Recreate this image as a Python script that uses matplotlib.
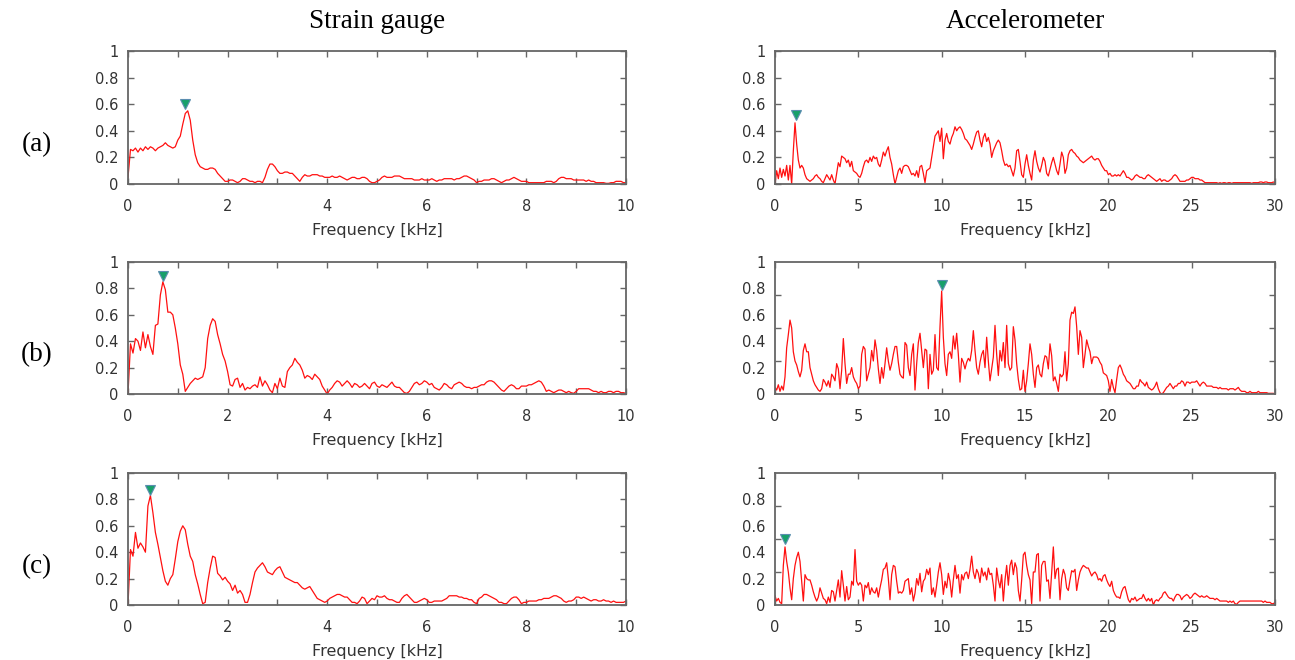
import numpy as np
import matplotlib
matplotlib.use("Agg")
import matplotlib.pyplot as plt
from matplotlib.ticker import FixedLocator, NullFormatter

# ---------------- data ----------------
column_titles = ["Strain gauge", "Accelerometer"]
row_labels = ["(a)", "(b)", "(c)"]
x_label = "Frequency [kHz]"
y_ticks = [0, 0.2, 0.4, 0.6, 0.8, 1.0]
y_ticklabels = ["0", "0.2", "0.4", "0.6", "0.8", "1"]
strain_xmax = 10
accel_xmax = 30

# strain gauge spectra, 0..10 kHz, 0.05 kHz step
strain_a = [
    0.05, 0.26, 0.25, 0.27, 0.24, 0.27, 0.25, 0.28, 0.26, 0.28, 0.27, 0.25, 0.27, 0.28, 0.29, 0.31, 0.29, 0.28, 0.27, 0.28,
    0.33, 0.36, 0.45, 0.53, 0.55, 0.48, 0.33, 0.22, 0.16, 0.13, 0.12, 0.11, 0.11, 0.12, 0.12, 0.11, 0.08, 0.06, 0.04, 0.02,
    0.02, 0.03, 0.03, 0.02, 0.01, 0.02, 0.04, 0.04, 0.03, 0.02, 0.02, 0.01, 0.02, 0.02, 0.01, 0.05, 0.11, 0.15, 0.15, 0.13,
    0.10, 0.08, 0.08, 0.09, 0.09, 0.08, 0.08, 0.06, 0.04, 0.02, 0.05, 0.07, 0.06, 0.06, 0.07, 0.07, 0.07, 0.06, 0.06, 0.05,
    0.05, 0.05, 0.06, 0.05, 0.05, 0.06, 0.05, 0.04, 0.03, 0.04, 0.05, 0.05, 0.04, 0.04, 0.05, 0.05, 0.04, 0.02, 0.01, 0.01,
    0.02, 0.03, 0.05, 0.06, 0.05, 0.05, 0.05, 0.06, 0.06, 0.06, 0.05, 0.04, 0.04, 0.04, 0.04, 0.03, 0.03, 0.03, 0.04, 0.03,
    0.03, 0.03, 0.04, 0.03, 0.02, 0.03, 0.03, 0.04, 0.04, 0.04, 0.04, 0.03, 0.04, 0.04, 0.05, 0.06, 0.06, 0.05, 0.04, 0.03,
    0.01, 0.02, 0.02, 0.03, 0.03, 0.03, 0.04, 0.04, 0.03, 0.02, 0.01, 0.02, 0.03, 0.03, 0.04, 0.05, 0.04, 0.03, 0.02, 0.02,
    0.02, 0.01, 0.01, 0.01, 0.01, 0.01, 0.01, 0.01, 0.02, 0.02, 0.02, 0.01, 0.02, 0.04, 0.05, 0.05, 0.04, 0.04, 0.04, 0.03,
    0.03, 0.03, 0.03, 0.03, 0.02, 0.03, 0.02, 0.02, 0.01, 0.01, 0.01, 0.01, 0.005, 0.005, 0.01, 0.01, 0.02, 0.02, 0.02, 0.01,
    0.01,
]
strain_b = [
    0.00, 0.38, 0.31, 0.42, 0.40, 0.33, 0.47, 0.35, 0.45, 0.36, 0.30, 0.52, 0.53, 0.75, 0.85, 0.79, 0.62, 0.62, 0.60, 0.50,
    0.38, 0.22, 0.15, 0.02, 0.05, 0.08, 0.10, 0.12, 0.11, 0.12, 0.13, 0.20, 0.42, 0.52, 0.57, 0.55, 0.45, 0.38, 0.30, 0.25,
    0.17, 0.07, 0.06, 0.11, 0.12, 0.05, 0.08, 0.03, 0.05, 0.04, 0.06, 0.07, 0.05, 0.13, 0.06, 0.10, 0.07, 0.03, 0.01, 0.08,
    0.04, 0.12, 0.06, 0.05, 0.17, 0.20, 0.22, 0.27, 0.24, 0.22, 0.18, 0.12, 0.14, 0.13, 0.11, 0.15, 0.13, 0.11, 0.06, 0.03,
    0.00, 0.03, 0.05, 0.08, 0.10, 0.09, 0.06, 0.08, 0.10, 0.08, 0.05, 0.08, 0.07, 0.05, 0.06, 0.08, 0.06, 0.04, 0.08, 0.09,
    0.06, 0.05, 0.07, 0.06, 0.05, 0.07, 0.09, 0.06, 0.05, 0.05, 0.03, 0.01, 0.005, 0.02, 0.05, 0.08, 0.09, 0.07, 0.08, 0.10,
    0.09, 0.07, 0.08, 0.05, 0.04, 0.03, 0.05, 0.08, 0.07, 0.05, 0.04, 0.07, 0.08, 0.09, 0.08, 0.06, 0.05, 0.05, 0.04, 0.05,
    0.05, 0.06, 0.07, 0.07, 0.09, 0.10, 0.10, 0.09, 0.07, 0.05, 0.03, 0.02, 0.04, 0.06, 0.07, 0.06, 0.04, 0.04, 0.06, 0.06,
    0.06, 0.07, 0.07, 0.08, 0.09, 0.10, 0.09, 0.06, 0.02, 0.03, 0.02, 0.01, 0.02, 0.03, 0.03, 0.02, 0.01, 0.02, 0.01, 0.005,
    0.02, 0.04, 0.04, 0.04, 0.04, 0.04, 0.03, 0.02, 0.02, 0.01, 0.02, 0.01, 0.01, 0.02, 0.02, 0.01, 0.02, 0.02, 0.01, 0.01,
    0.005,
]
strain_c = [
    0.00, 0.42, 0.37, 0.55, 0.43, 0.47, 0.44, 0.40, 0.75, 0.83, 0.70, 0.55, 0.46, 0.36, 0.26, 0.18, 0.15, 0.20, 0.23, 0.35,
    0.48, 0.56, 0.60, 0.57, 0.46, 0.37, 0.33, 0.23, 0.16, 0.08, 0.01, 0.02, 0.17, 0.28, 0.37, 0.36, 0.24, 0.22, 0.19, 0.21,
    0.18, 0.16, 0.11, 0.15, 0.09, 0.11, 0.08, 0.02, 0.02, 0.08, 0.17, 0.25, 0.28, 0.30, 0.32, 0.29, 0.25, 0.24, 0.23, 0.26,
    0.28, 0.29, 0.25, 0.21, 0.20, 0.19, 0.18, 0.17, 0.17, 0.15, 0.13, 0.12, 0.13, 0.14, 0.11, 0.08, 0.05, 0.04, 0.03, 0.02,
    0.03, 0.05, 0.06, 0.07, 0.08, 0.08, 0.07, 0.06, 0.06, 0.04, 0.02, 0.02, 0.01, 0.03, 0.06, 0.05, 0.01, 0.03, 0.05, 0.04,
    0.07, 0.06, 0.06, 0.07, 0.05, 0.04, 0.04, 0.03, 0.02, 0.02, 0.05, 0.07, 0.08, 0.06, 0.04, 0.02, 0.02, 0.03, 0.04, 0.05,
    0.04, 0.02, 0.02, 0.03, 0.03, 0.03, 0.03, 0.04, 0.05, 0.07, 0.07, 0.07, 0.07, 0.06, 0.06, 0.05, 0.05, 0.04, 0.04, 0.02,
    0.01, 0.05, 0.06, 0.08, 0.08, 0.07, 0.06, 0.05, 0.04, 0.02, 0.02, 0.01, 0.01, 0.03, 0.05, 0.06, 0.06, 0.04, 0.01, 0.02,
    0.02, 0.03, 0.03, 0.03, 0.03, 0.04, 0.04, 0.05, 0.05, 0.05, 0.06, 0.07, 0.07, 0.06, 0.05, 0.03, 0.02, 0.03, 0.03, 0.04,
    0.06, 0.06, 0.05, 0.06, 0.05, 0.04, 0.03, 0.04, 0.04, 0.03, 0.03, 0.04, 0.03, 0.03, 0.02, 0.03, 0.02, 0.02, 0.02, 0.02,
    0.03,
]

# accelerometer spectra, 0..30 kHz, 0.1 kHz step
accel_a = [
    0.00, 0.10, 0.04, 0.12, 0.05, 0.11, 0.06, 0.14, 0.03, 0.14,
    0.00, 0.25, 0.46, 0.30, 0.18, 0.12, 0.14, 0.12, 0.07, 0.04,
    0.03, 0.02, 0.03, 0.04, 0.06, 0.07, 0.05, 0.04, 0.02, 0.01,
    0.04, 0.07, 0.05, 0.03, 0.07, 0.03, 0.00, 0.08, 0.16, 0.13,
    0.21, 0.20, 0.19, 0.16, 0.18, 0.13, 0.17, 0.10, 0.09, 0.08,
    0.06, 0.05, 0.08, 0.13, 0.17, 0.18, 0.16, 0.20, 0.17, 0.21,
    0.19, 0.20, 0.15, 0.13, 0.18, 0.24, 0.21, 0.25, 0.28, 0.20,
    0.15, 0.07, 0.00, 0.05, 0.10, 0.12, 0.08, 0.13, 0.14, 0.14,
    0.13, 0.10, 0.07, 0.08, 0.06, 0.10, 0.05, 0.13, 0.14, 0.08,
    0.01, 0.10, 0.11, 0.12, 0.20, 0.28, 0.36, 0.38, 0.40, 0.32,
    0.42, 0.19, 0.33, 0.38, 0.32, 0.30, 0.35, 0.38, 0.43, 0.40,
    0.42, 0.43, 0.41, 0.38, 0.34, 0.33, 0.31, 0.29, 0.26, 0.30,
    0.35, 0.39, 0.40, 0.33, 0.28, 0.35, 0.38, 0.32, 0.35, 0.30,
    0.20, 0.25, 0.28, 0.31, 0.33, 0.31, 0.25, 0.18, 0.14, 0.15,
    0.13, 0.14, 0.10, 0.06, 0.12, 0.25, 0.26, 0.17, 0.07, 0.05,
    0.15, 0.22, 0.14, 0.08, 0.03, 0.18, 0.25, 0.17, 0.12, 0.09,
    0.14, 0.20, 0.17, 0.08, 0.06, 0.11, 0.16, 0.20, 0.15, 0.10,
    0.07, 0.15, 0.24, 0.20, 0.08, 0.12, 0.22, 0.25, 0.26, 0.24,
    0.23, 0.21, 0.20, 0.18, 0.17, 0.16, 0.17, 0.18, 0.19, 0.20,
    0.21, 0.19, 0.18, 0.19, 0.19, 0.17, 0.14, 0.12, 0.10, 0.10,
    0.07, 0.08, 0.06, 0.06, 0.07, 0.06, 0.07, 0.06, 0.08, 0.10,
    0.08, 0.05, 0.05, 0.04, 0.03, 0.04, 0.06, 0.07, 0.06, 0.05,
    0.05, 0.04, 0.04, 0.06, 0.07, 0.06, 0.05, 0.04, 0.03, 0.02,
    0.03, 0.04, 0.02, 0.03, 0.03, 0.02, 0.02, 0.03, 0.04, 0.06,
    0.07, 0.06, 0.04, 0.02, 0.02, 0.02, 0.02, 0.03, 0.03, 0.04,
    0.05, 0.05, 0.04, 0.04, 0.04, 0.03, 0.03, 0.02, 0.01, 0.01,
    0.01, 0.01, 0.01, 0.01, 0.01, 0.01, 0.005, 0.01, 0.005, 0.01,
    0.01, 0.005, 0.01, 0.01, 0.005, 0.01, 0.01, 0.01, 0.01, 0.01,
    0.01, 0.01, 0.01, 0.01, 0.01, 0.01, 0.005, 0.01, 0.01, 0.01,
    0.01, 0.015, 0.015, 0.01, 0.015, 0.015, 0.01, 0.01, 0.01, 0.015,
    0.01,
]
accel_b = [
    0.05, 0.03, 0.07, 0.02, 0.06, 0.03, 0.13, 0.35, 0.45, 0.56,
    0.50, 0.32, 0.25, 0.22, 0.17, 0.13, 0.18, 0.33, 0.38, 0.32,
    0.32, 0.20, 0.15, 0.10, 0.07, 0.05, 0.03, 0.02, 0.04, 0.11,
    0.09, 0.06, 0.10, 0.05, 0.15, 0.13, 0.10, 0.23, 0.19, 0.04,
    0.18, 0.42, 0.23, 0.08, 0.15, 0.15, 0.20, 0.13, 0.10, 0.08,
    0.04, 0.06, 0.30, 0.36, 0.34, 0.10, 0.15, 0.20, 0.33, 0.25,
    0.41, 0.33, 0.19, 0.08, 0.20, 0.12, 0.23, 0.35, 0.25, 0.18,
    0.23, 0.30, 0.36, 0.36, 0.24, 0.15, 0.13, 0.12, 0.39, 0.37,
    0.20, 0.14, 0.30, 0.38, 0.03, 0.23, 0.39, 0.46, 0.33, 0.20,
    0.34, 0.33, 0.04, 0.30, 0.15, 0.18, 0.45, 0.20, 0.18, 0.51,
    0.78, 0.43, 0.23, 0.14, 0.30, 0.32, 0.27, 0.44, 0.34, 0.46,
    0.30, 0.09, 0.27, 0.24, 0.19, 0.24, 0.27, 0.25, 0.33, 0.48,
    0.33, 0.20, 0.15, 0.24, 0.30, 0.33, 0.20, 0.43, 0.25, 0.10,
    0.19, 0.28, 0.52, 0.30, 0.14, 0.33, 0.25, 0.39, 0.20, 0.52,
    0.23, 0.18, 0.20, 0.51, 0.41, 0.23, 0.11, 0.03, 0.04, 0.18,
    0.02, 0.10, 0.23, 0.38, 0.30, 0.15, 0.05, 0.20, 0.22, 0.15,
    0.13, 0.23, 0.29, 0.28, 0.19, 0.38, 0.29, 0.10, 0.13, 0.08,
    0.02, 0.15, 0.13, 0.15, 0.32, 0.10, 0.23, 0.56, 0.62, 0.61,
    0.66, 0.51, 0.30, 0.48, 0.43, 0.20, 0.30, 0.41, 0.36, 0.32,
    0.23, 0.28, 0.28, 0.28, 0.27, 0.24, 0.22, 0.16, 0.15, 0.14,
    0.10, 0.02, 0.11, 0.05, 0.01, 0.11, 0.20, 0.22, 0.19, 0.15,
    0.13, 0.10, 0.09, 0.08, 0.06, 0.04, 0.04, 0.06, 0.06, 0.11,
    0.09, 0.08, 0.06, 0.09, 0.05, 0.04, 0.03, 0.04, 0.06, 0.09,
    0.04, 0.01, 0.00, 0.01, 0.03, 0.05, 0.06, 0.08, 0.06, 0.04,
    0.06, 0.06, 0.08, 0.08, 0.10, 0.09, 0.06, 0.09, 0.09, 0.08,
    0.09, 0.09, 0.09, 0.10, 0.08, 0.06, 0.08, 0.09, 0.08, 0.06,
    0.06, 0.06, 0.06, 0.05, 0.05, 0.05, 0.04, 0.05, 0.04, 0.04,
    0.04, 0.04, 0.03, 0.04, 0.04, 0.04, 0.03, 0.04, 0.05, 0.03,
    0.02, 0.02, 0.02, 0.01, 0.01, 0.02, 0.01, 0.01, 0.01, 0.01,
    0.02, 0.01, 0.01, 0.01, 0.01, 0.01, 0.005, 0.005, 0.005, 0.005,
    0.00,
]
accel_c = [
    0.07, 0.03, 0.05, 0.02, 0.01, 0.30, 0.44, 0.33, 0.25, 0.13,
    0.04, 0.20, 0.30, 0.36, 0.40, 0.33, 0.18, 0.03, 0.23, 0.20,
    0.19, 0.19, 0.15, 0.10, 0.06, 0.03, 0.06, 0.13, 0.09, 0.05,
    0.04, 0.01, 0.06, 0.02, 0.11, 0.10, 0.03, 0.11, 0.19, 0.06,
    0.26, 0.15, 0.03, 0.14, 0.04, 0.06, 0.18, 0.15, 0.42, 0.18,
    0.15, 0.17, 0.15, 0.03, 0.15, 0.13, 0.17, 0.08, 0.13, 0.10,
    0.09, 0.13, 0.06, 0.13, 0.19, 0.27, 0.28, 0.32, 0.20, 0.04,
    0.23, 0.30, 0.29, 0.18, 0.09, 0.10, 0.09, 0.11, 0.18, 0.19,
    0.20, 0.08, 0.13, 0.03, 0.09, 0.20, 0.15, 0.24, 0.10, 0.18,
    0.20, 0.27, 0.23, 0.28, 0.08, 0.13, 0.06, 0.15, 0.25, 0.32,
    0.23, 0.08, 0.18, 0.13, 0.24, 0.18, 0.06, 0.19, 0.30, 0.20,
    0.23, 0.09, 0.23, 0.19, 0.24, 0.25, 0.20, 0.27, 0.37, 0.25,
    0.20, 0.27, 0.24, 0.17, 0.28, 0.22, 0.25, 0.19, 0.28, 0.23,
    0.24, 0.15, 0.03, 0.28, 0.19, 0.13, 0.23, 0.03, 0.19, 0.30,
    0.15, 0.30, 0.34, 0.23, 0.32, 0.28, 0.11, 0.03, 0.19, 0.38,
    0.40, 0.30, 0.23, 0.19, 0.01, 0.25, 0.25, 0.38, 0.39, 0.03,
    0.30, 0.33, 0.33, 0.18, 0.19, 0.05, 0.25, 0.44, 0.20, 0.27,
    0.28, 0.04, 0.20, 0.27, 0.23, 0.13, 0.11, 0.19, 0.26, 0.25,
    0.27, 0.11, 0.19, 0.25, 0.28, 0.30, 0.29, 0.28, 0.28, 0.25,
    0.22, 0.24, 0.25, 0.23, 0.19, 0.20, 0.18, 0.22, 0.23, 0.19,
    0.16, 0.14, 0.18, 0.11, 0.08, 0.06, 0.06, 0.05, 0.10, 0.13,
    0.14, 0.09, 0.04, 0.02, 0.05, 0.04, 0.06, 0.03, 0.04, 0.05,
    0.05, 0.08, 0.05, 0.03, 0.05, 0.03, 0.05, 0.00, 0.03, 0.04,
    0.03, 0.05, 0.06, 0.09, 0.10, 0.08, 0.06, 0.05, 0.05, 0.03,
    0.06, 0.08, 0.08, 0.07, 0.04, 0.06, 0.07, 0.08, 0.07, 0.05,
    0.06, 0.08, 0.09, 0.08, 0.07, 0.06, 0.07, 0.06, 0.06, 0.07,
    0.06, 0.05, 0.05, 0.05, 0.04, 0.05, 0.04, 0.03, 0.03, 0.03,
    0.03, 0.03, 0.02, 0.03, 0.02, 0.03, 0.01, 0.005, 0.02, 0.03,
    0.03, 0.03, 0.03, 0.03, 0.03, 0.03, 0.03, 0.03, 0.03, 0.03,
    0.03, 0.03, 0.03, 0.02, 0.03, 0.02, 0.02, 0.02, 0.01, 0.01,
    0.02,
]

# peak markers (frequency kHz, marker height)
strain_peak_f = [1.15, 0.70, 0.45]
strain_peak_y = [0.60, 0.895, 0.875]
accel_peak_f = [1.25, 10.0, 0.6]
accel_peak_y = [0.52, 0.825, 0.50]

# ---------------- figure ----------------
W, H = 1295, 660
fig = plt.figure(figsize=(W / 100, H / 100), dpi=100)

row_px = [(51, 184), (262, 394), (473, 605)]
col_px = [(128, 626), (775, 1275)]

text_color = "#333333"
frame_color = "#666666"
line_color = "#ff1010"
tick_font = "DejaVu Sans"


def make_axes(r, c):
    top, bot = row_px[r]
    left, right = col_px[c]
    return fig.add_axes([left / W, 1 - bot / H, (right - left) / W, (bot - top) / H])


strain_series = [strain_a, strain_b, strain_c]
accel_series = [accel_a, accel_b, accel_c]

for r in range(3):
    for c in range(2):
        ax = make_axes(r, c)
        if c == 0:
            vals = strain_series[r]
            xmax = strain_xmax
            pf, py = strain_peak_f[r], strain_peak_y[r]
        else:
            vals = accel_series[r]
            xmax = accel_xmax
            pf, py = accel_peak_f[r], accel_peak_y[r]
        freq = np.linspace(0, xmax, len(vals))
        ax.plot(freq, vals, color=line_color, lw=0.9, zorder=2)
        ax.plot([pf], [py], marker="v", ms=7.5, mfc="#17a06a", mec="#5b8db0",
                mew=0.8, ls="none", zorder=3, clip_on=False)
        ax.set_xlim(0, xmax)
        ax.set_ylim(0, 1)
        for s in ax.spines.values():
            s.set_color(frame_color)
            s.set_linewidth(1.3)

        # x ticks
        if c == 0:
            ax.set_xticks(np.arange(0, xmax + 0.1, 2))
            ax.xaxis.set_minor_locator(FixedLocator(np.arange(1, xmax, 2)))
        else:
            ax.set_xticks(np.arange(0, xmax + 0.1, 5))
        ax.set_xticklabels([f"{v:g}" for v in ax.get_xticks()])

        # y ticks
        ax.set_yticks(y_ticks)
        ax.set_yticklabels(y_ticklabels)
        if c == 1 and r > 0:
            ax.yaxis.set_minor_locator(FixedLocator([0.25, 0.5, 0.75]))
            ax.yaxis.set_minor_formatter(NullFormatter())
        ax.tick_params(axis="both", which="both", direction="in", top=True, right=True,
                       color=frame_color, width=1.0)
        ax.tick_params(axis="both", which="major", length=4, labelsize=10.5,
                       labelcolor=text_color)
        if c == 1 and r > 0:
            ax.tick_params(axis="y", which="major", length=0)
            ax.tick_params(axis="y", which="minor", length=4)
        ax.tick_params(axis="x", which="minor", length=4)
        ax.tick_params(axis="x", which="major", pad=10.5)
        ax.tick_params(axis="y", which="major", pad=7)
        for lab in ax.get_xticklabels() + ax.get_yticklabels():
            lab.set_fontfamily(tick_font)
        ax.set_xlabel(x_label, fontsize=11.5, color=text_color, labelpad=7,
                      family=tick_font)

# column titles and row labels
fig.text(377 / W, 1 - 22 / H, column_titles[0], ha="center", va="center",
         fontsize=19.5, family="Liberation Serif", color="black")
fig.text(1025 / W, 1 - 22 / H, column_titles[1], ha="center", va="center",
         fontsize=19.5, family="Liberation Serif", color="black")
for lab, yc in zip(row_labels, [145, 355, 567]):
    fig.text(37 / W, 1 - yc / H, lab, ha="center", va="center",
             fontsize=19.5, family="Liberation Serif", color="black")

fig.savefig("out.png", dpi=100, facecolor="white")
